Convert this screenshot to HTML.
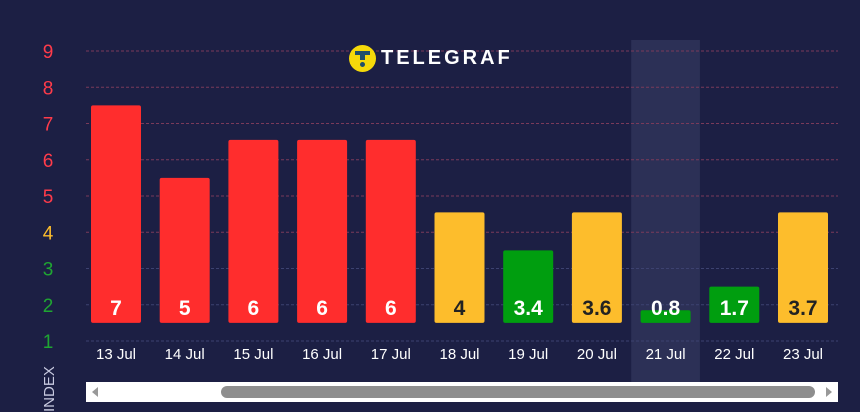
<!DOCTYPE html>
<html><head><meta charset="utf-8"><style>
body{margin:0;width:860px;height:412px;background:#1c1f44;overflow:hidden;font-family:"Liberation Sans",sans-serif}
</style></head><body>
<svg id="c" width="860" height="412" style="position:absolute;left:0;top:0"></svg>
<script>
const categories=["13 Jul","14 Jul","15 Jul","16 Jul","17 Jul","18 Jul","19 Jul","20 Jul","21 Jul","22 Jul","23 Jul"];
const labels=["7","5","6","6","6","4","3.4","3.6","0.8","1.7","3.7"];
const barTops=[7.5,5.5,6.55,6.55,6.55,4.55,3.5,4.55,1.85,2.5,4.55];
const levels=["r","r","r","r","r","o","g","o","g","g","o"];
const yTicks=[1,2,3,4,5,6,7,8,9];
const highlighted=8;
const NS="http://www.w3.org/2000/svg";
const svg=document.getElementById('c');
const X0=86,X1=838,band=68.7,BW=50;
const y=v=>341-(v-1)*36.25;
const xc=i=>116+band*i;
const col={r:"#ff2d2d",o:"#fdbd2c",g:"#009e0f"};
const tickCol=v=>v>=5?"#ff3b4a":v==4?"#fdbd2c":"#1fa632";
function mk(t,a){const e=document.createElementNS(NS,t);for(const k in a)e.setAttribute(k,a[k]);svg.appendChild(e);return e;}
let h=mk('rect',{x:xc(highlighted)-band/2,y:40,width:band,height:342,fill:"#2c3056"});


yTicks.forEach(v=>{
 let l=mk('line',{x1:X0,x2:X1,y1:y(v),y2:y(v),stroke:v>=4?"#7a3a5a":"#3d4270","stroke-dasharray":"3,2","stroke-width":1});
 
 
 let t=mk('text',{x:48,y:y(v)+7,"text-anchor":"middle","font-size":19,fill:tickCol(v)});t.textContent=v;
 
 
});
categories.forEach((c,i)=>{
 const top=y(barTops[i]),bot=y(1.5);
 let r=mk('rect',{x:xc(i)-BW/2,y:top,width:BW,height:bot-top,rx:2,fill:col[levels[i]]});
 
 
 let t=mk('text',{x:xc(i),y:315,"text-anchor":"middle","font-size":21,"font-weight":"bold",fill:levels[i]=="o"?"#222":"#fff"});t.textContent=labels[i];
 
 
 let x=mk('text',{x:xc(i),y:359,"text-anchor":"middle","font-size":15,fill:"#fff"});x.textContent=c;
 
 
});
let yt=mk('text',{x:0,y:0,"font-size":15,fill:"#c8cae0",transform:"translate(54,412) rotate(-90)"});yt.textContent="INDEX";


</script>
<div style="position:absolute;left:349px;top:44px;height:28px;display:flex;align-items:center">
 <div style="width:27px;height:27px;border-radius:50%;background:#f5d90a;position:relative">
  <div style="position:absolute;left:6px;top:6px;width:15px;height:4px;background:#1f4f6b"></div>
  <div style="position:absolute;left:11px;top:10px;width:5px;height:5px;background:#1f4f6b"></div>
  <div style="position:absolute;left:11px;top:17px;width:5px;height:5px;border-radius:50%;background:#1f4f6b"></div>
 </div>
 <span style="color:#fff;font-weight:bold;font-size:20px;letter-spacing:3px;margin-left:5px">TELEGRAF</span>
</div>
<div style="position:absolute;left:86px;top:382px;width:752px;height:20px;background:#fff">
 <div style="position:absolute;left:6px;top:5px;width:0;height:0;border-top:5px solid transparent;border-bottom:5px solid transparent;border-right:6px solid #999"></div>
 <div style="position:absolute;left:135px;top:4px;width:594px;height:12px;border-radius:6px;background:#8e8e8e"></div>
 <div style="position:absolute;right:6px;top:5px;width:0;height:0;border-top:5px solid transparent;border-bottom:5px solid transparent;border-left:6px solid #999"></div>
</div>
</body></html>
